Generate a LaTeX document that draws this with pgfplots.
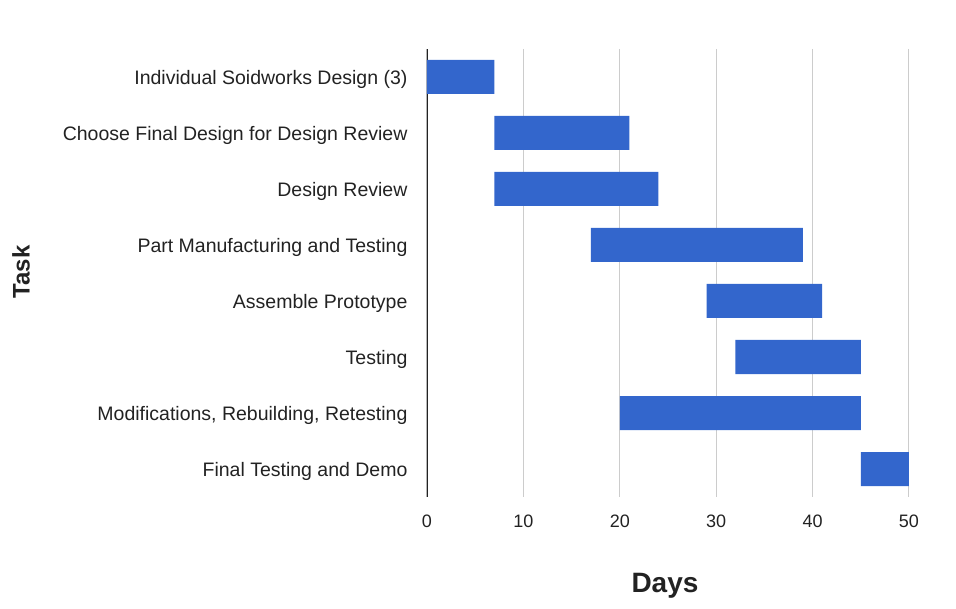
\documentclass[border=0pt]{standalone}
\usepackage{pgfplots}
\pgfplotsset{compat=1.18}
\usepackage{fontspec}
\setmainfont{Liberation Sans}
\definecolor{barblue}{HTML}{3366CC}
\definecolor{gridgray}{HTML}{CCCCCC}
\definecolor{txt}{HTML}{222222}
\begin{document}
\begin{tikzpicture}
\path[use as bounding box] (-427pt,-112pt) rectangle (529pt,497pt);
\begin{axis}[
  at={(0pt,0pt)}, anchor=south west,
  scale only axis, width=482pt, height=448pt,
  xbar stacked, bar width=34pt,
  xmin=0, xmax=50,
  ymin=-0.5, ymax=7.5, y dir=reverse,
  ytick={0,...,7},
  yticklabels={Individual Soidworks Design (3),Choose Final Design for Design Review,Design Review,Part Manufacturing and Testing,Assemble Prototype,Testing,{Modifications, Rebuilding, Retesting},Final Testing and Demo},
  xtick={0,10,20,30,40,50},
  xmajorgrids, major grid style={gridgray, line width=1pt},
  axis line style={draw=none},
  major tick length=0pt,
  /pgf/number format/assume math mode=true,
  xticklabel style={font=\fontsize{18}{20}\selectfont, text=txt, anchor=center, yshift=-24pt},
  yticklabel style={font=\fontsize{19.5}{22}\selectfont, text=txt, anchor=east, xshift=-16pt, yshift=-2pt},
]
\addplot[draw=none, fill=none] coordinates {(0,0) (7,1) (7,2) (17,3) (29,4) (32,5) (20,6) (45,7)};
\addplot[fill=barblue, draw=none] coordinates {(7,0) (14,1) (17,2) (22,3) (12,4) (13,5) (25,6) (5,7)};
\draw[txt, line width=1.3pt] (rel axis cs:0,0) -- (rel axis cs:0,1);
\end{axis}
\node[font=\bfseries\fontsize{28}{30}\selectfont, text=txt] at (238pt,-89pt) {Days};
\node[font=\bfseries\fontsize{24}{26}\selectfont, text=txt, rotate=90] at (-406pt,225pt) {Task};
\end{tikzpicture}
\end{document}
